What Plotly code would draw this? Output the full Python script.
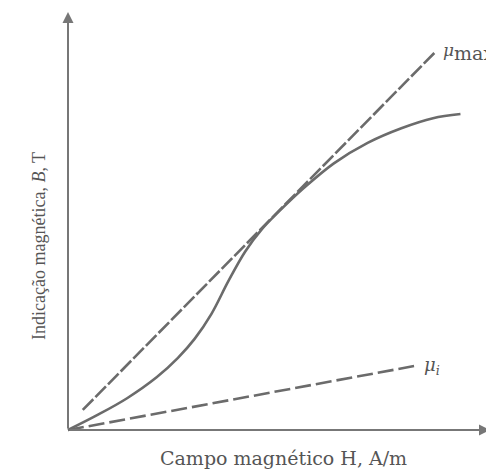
import plotly.graph_objects as go

# curva de magnetização B(H) (unidades arbitrárias 0-100)
campo_h = [0, 7, 14, 21, 26, 30, 34, 38, 42, 46, 50, 56, 63, 71, 79, 86.5, 93]
inducao_b = [0, 3.6, 7.6, 12.6, 17.2, 21.8, 27.8, 35.6, 42.7, 48.1, 52.3, 58.0, 63.8, 68.7, 72.2, 74.6, 75.6]

# retas de permeabilidade
mu_max_h = [3.5, 87]
mu_max_b = [4.8, 90.4]
mu_i_h = [0, 82]
mu_i_b = [0, 15.3]

cor = '#6b6b6b'
serif = 'Liberation Serif, Times New Roman, serif'
serif_larga = 'DejaVu Serif, serif'

fig = go.Figure()

fig.add_trace(go.Scatter(
    x=mu_max_h, y=mu_max_b, mode='lines',
    line=dict(color=cor, width=2.6, dash='15px,3px')
))
fig.add_trace(go.Scatter(
    x=mu_i_h, y=mu_i_b, mode='lines',
    line=dict(color=cor, width=2.6, dash='16px,5px')
))
fig.add_trace(go.Scatter(
    x=campo_h, y=inducao_b, mode='lines',
    line=dict(color=cor, width=2.6, shape='spline', smoothing=1.0)
))

# eixos com setas
fig.add_annotation(x=0, y=100, ax=0, ay=0, axref='x', ayref='y', text='',
                   showarrow=True, arrowhead=2, arrowsize=1.1, arrowwidth=2, arrowcolor='#777777')
fig.add_annotation(x=100, y=0, ax=0, ay=0, axref='x', ayref='y', text='',
                   showarrow=True, arrowhead=2, arrowsize=1.1, arrowwidth=2, arrowcolor='#777777')

fig.add_annotation(x=mu_max_h[1] + 1.5, y=mu_max_b[1], text='<i>μ</i><sub><span style="font-size:19px">max</span></sub>',
                   showarrow=False, xanchor='left', yanchor='middle',
                   font=dict(family=serif_larga, size=17, color='#555555'))
fig.add_annotation(x=mu_i_h[1] + 2, y=mu_i_b[1], text='<i>μ<sub>i</sub></i>',
                   showarrow=False, xanchor='left', yanchor='middle',
                   font=dict(family=serif_larga, size=18, color='#555555'))

fig.add_annotation(x=0.557, y=0.0526, xref='paper', yref='paper',
                   xanchor='center', yanchor='middle',
                   text='Campo magnético H, A/m', showarrow=False,
                   font=dict(family=serif_larga, size=19, color='#555555'))
fig.add_annotation(x=0.0628, y=0.499, xref='paper', yref='paper', textangle=-90,
                   xanchor='center', yanchor='middle',
                   text='Indicação magnética, <i>B</i>, T', showarrow=False,
                   font=dict(family=serif, size=18, color='#555555'))

fig.update_layout(
    width=494, height=475,
    margin=dict(l=0, r=0, t=0, b=0),
    plot_bgcolor='white', paper_bgcolor='white',
    showlegend=False,
    xaxis=dict(range=[-14.218, 102.844], visible=False),
    yaxis=dict(range=[-12.679, 100.957], visible=False),
)

fig.write_html("out.html")
